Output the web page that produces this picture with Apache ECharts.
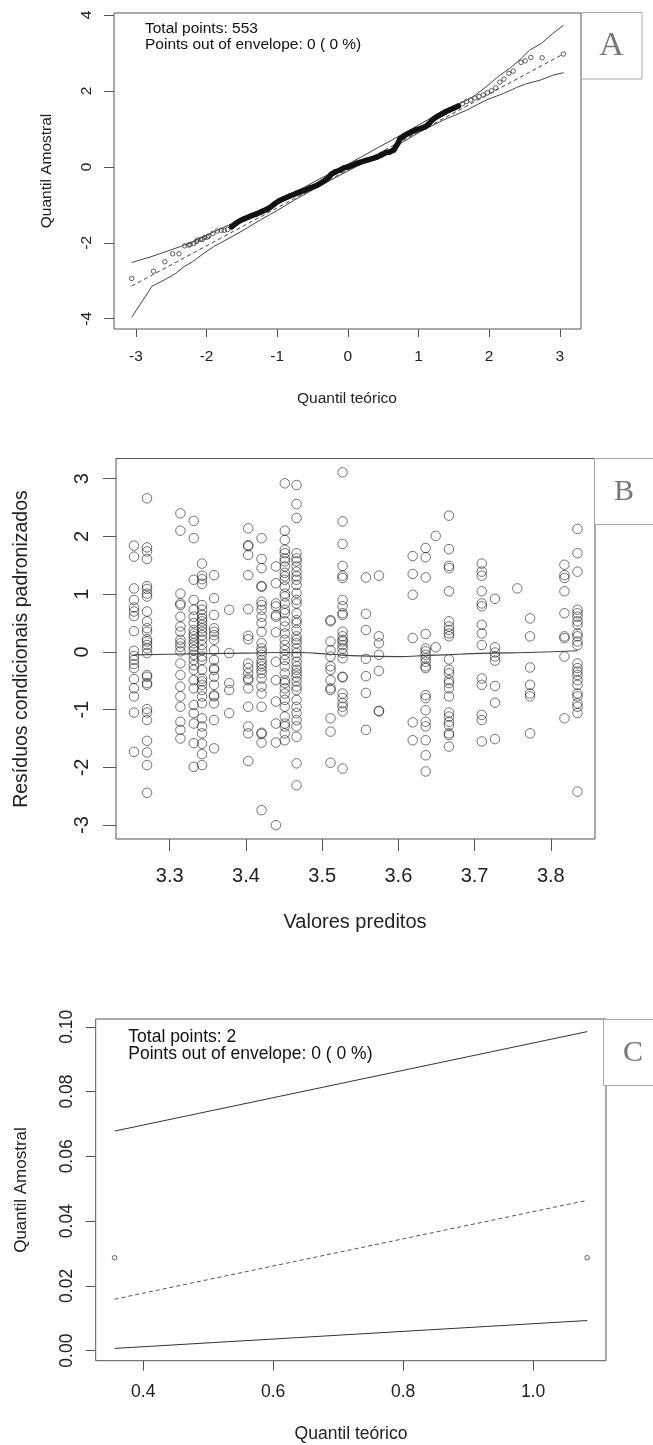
<!DOCTYPE html>
<html><head><meta charset="utf-8">
<script src="https://cdn.jsdelivr.net/npm/echarts@6/dist/echarts.min.js"></script>
<style>html,body{margin:0;padding:0;background:#fff}#c{width:653px;height:1445px}</style>
</head><body><div id="c"></div>
<script>
// ---------- Panel A : normal QQ plot with envelope ----------
// sample points (theoretical quantile, sample quantile)
const aPtX = [-3.06,-2.75,-2.59,-2.48,-2.39,-2.31,-2.25,-2.233,-2.18,-2.145,-2.13,-2.086,-2.06,-2.027,-1.99,-1.969,-1.910,-1.850,-1.792,-1.75,-1.703,-1.645,-1.586,-1.527,-1.468,-1.380,-1.292,-1.233,-1.144,-1.086,-1.027,-0.968,-0.910,-0.821,-0.733,-0.674,-0.585,-0.527,-0.438,-0.350,-0.291,-0.232,-0.174,-0.114,-0.056,0.003,0.062,0.121,0.179,0.239,0.297,0.356,0.415,0.474,0.532,0.592,0.650,0.679,0.709,0.739,0.798,0.856,0.915,0.975,1.032,1.092,1.151,1.209,1.268,1.328,1.386,1.445,1.504,1.562,1.621,1.681,1.739,1.798,1.857,1.915,1.975,2.034,2.092,2.15,2.21,2.28,2.34,2.45,2.51,2.59,2.75,3.05];
const aPtY = [-2.94,-2.75,-2.50,-2.29,-2.29,-2.08,-2.06,-2.04,-2.02,-1.97,-1.93,-1.91,-1.91,-1.86,-1.85,-1.82,-1.75,-1.69,-1.67,-1.67,-1.65,-1.58,-1.49,-1.42,-1.37,-1.30,-1.24,-1.19,-1.12,-1.05,-0.96,-0.89,-0.84,-0.77,-0.70,-0.66,-0.60,-0.55,-0.49,-0.39,-0.31,-0.19,-0.13,-0.09,-0.03,0.00,0.04,0.09,0.12,0.16,0.19,0.22,0.26,0.31,0.37,0.39,0.44,0.53,0.62,0.74,0.82,0.88,0.93,0.98,1.01,1.05,1.14,1.26,1.33,1.39,1.45,1.50,1.55,1.60,1.66,1.72,1.76,1.81,1.85,1.89,1.95,2.00,2.08,2.23,2.31,2.46,2.52,2.75,2.79,2.88,2.87,2.97];
const aDenseFrom = -1.65, aDenseTo = 1.60;   // x-range where the circles overlap into a solid band
const aUpX = [-3.06,-2.79,-2.51,-2.37,-2.18,-2.00,-1.80,-1.60,-1.40,-1.20,-1.00,-0.80,-0.60,-0.40,-0.20,0.00,0.20,0.40,0.60,0.80,1.00,1.20,1.40,1.59,1.77,1.96,2.15,2.29,2.43,2.57,2.74,2.90,3.055];
const aUpY = [-2.52,-2.37,-2.19,-2.10,-1.96,-1.80,-1.63,-1.46,-1.28,-1.10,-0.91,-0.72,-0.52,-0.32,-0.13,0.07,0.27,0.48,0.68,0.89,1.10,1.31,1.51,1.67,1.84,2.11,2.41,2.59,2.81,3.07,3.25,3.51,3.73];
const aLoX = [-3.06,-2.77,-2.60,-2.44,-2.32,-2.20,-2.04,-1.90,-1.71,-1.47,-1.24,-1.00,-0.77,-0.50,-0.25,0.00,0.25,0.50,0.75,1.02,1.35,1.68,1.96,2.20,2.39,2.53,2.72,2.90,3.055];
const aLoY = [-3.96,-3.14,-2.98,-2.81,-2.63,-2.50,-2.28,-2.10,-1.91,-1.66,-1.40,-1.15,-0.89,-0.61,-0.36,-0.11,0.13,0.34,0.62,0.92,1.23,1.49,1.76,1.93,2.09,2.19,2.28,2.41,2.48];
const aMidX = [-3.06, 3.05];
const aMidY = [-3.14, 2.97];
const aTicksX = [-3,-2,-1,0,1,2,3];
const aTicksY = [-4,-2,0,2,4];
const aText = ['Total points: 553', 'Points out of envelope: 0 ( 0 %)'];

// ---------- Panel B : residuals vs fitted ----------
const bColX = [3.2531,3.2702,3.314,3.3315,3.3424,3.3582,3.378,3.403,3.4205,3.4393,3.451,3.4664,3.511,3.5268,3.5574,3.5745,3.6188,3.6358,3.649,3.6664,3.7094,3.7268,3.7561,3.7728,3.8179,3.835];
const bColY = [
 [1.84,1.65,1.10,0.90,0.77,0.70,0.62,0.36,0.02,-0.07,-0.14,-0.21,-0.28,-0.47,-0.63,-0.77,-1.05,-1.73],
 [2.66,1.81,1.74,1.61,1.14,1.09,1.01,0.96,0.70,0.53,0.41,0.35,0.22,0.18,0.12,0.06,-0.02,-0.40,-0.43,-0.54,-0.57,-0.99,-1.05,-1.18,-1.54,-1.74,-1.96,-2.44],
 [2.40,2.10,1.01,0.84,0.81,0.61,0.44,0.35,0.21,0.15,0.09,0.01,-0.20,-0.40,-0.60,-0.77,-0.95,-1.21,-1.35,-1.50],
 [2.27,1.97,1.25,0.90,0.73,0.61,0.50,0.38,0.32,0.27,0.21,0.15,0.09,0.03,-0.05,-0.14,-0.23,-0.31,-0.49,-0.63,-0.92,-1.06,-1.24,-1.58,-1.99],
 [1.53,1.32,1.26,1.18,0.81,0.73,0.64,0.58,0.53,0.47,0.41,0.35,0.29,0.21,0.12,0.03,-0.08,-0.14,-0.31,-0.46,-0.51,-0.57,-0.66,-0.77,-0.89,-1.15,-1.29,-1.41,-1.59,-1.77,-1.96],
 [1.33,0.93,0.64,0.41,0.35,0.29,0.21,0.03,-0.14,-0.28,-0.31,-0.43,-0.57,-0.75,-0.77,-0.89,-1.18,-1.67],
 [0.73,-0.02,-0.54,-0.66,-1.06],
 [2.14,1.85,1.83,1.68,1.33,0.74,0.28,0.22,-0.20,-0.28,-0.37,-0.46,-0.49,-0.63,-0.95,-1.29,-1.41,-1.89],
 [1.97,1.61,1.45,1.14,1.13,0.87,0.81,0.73,0.61,0.50,0.35,0.15,0.06,0.01,-0.05,-0.14,-0.20,-0.25,-0.31,-0.37,-0.46,-0.60,-0.72,-0.95,-1.40,-1.42,-1.57,-2.74],
 [1.48,1.19,0.84,0.79,0.64,0.61,0.34,-0.17,-0.49,-0.86,-1.24,-1.57,-3.00],
 [2.92,2.10,1.94,1.77,1.71,1.62,1.57,1.48,1.37,1.31,1.25,1.13,1.01,0.96,0.84,0.73,0.67,0.53,0.44,0.32,0.21,0.12,0.03,-0.05,-0.14,-0.25,-0.37,-0.49,-0.54,-0.63,-0.72,-0.83,-0.95,-1.12,-1.24,-1.29,-1.41,-1.53],
 [2.89,2.56,2.32,1.71,1.62,1.57,1.48,1.39,1.31,1.25,1.16,1.02,0.90,0.84,0.67,0.55,0.50,0.38,0.27,0.21,0.15,0.06,-0.02,-0.08,-0.17,-0.25,-0.31,-0.37,-0.43,-0.51,-0.60,-0.66,-0.83,-0.95,-1.06,-1.18,-1.29,-1.47,-1.93,-2.31],
 [0.55,0.53,0.18,0.03,-0.08,-0.25,-0.31,-0.49,-0.63,-0.66,-1.15,-1.38,-1.92],
 [3.11,2.26,1.87,1.49,1.32,1.28,0.90,0.79,0.67,0.64,0.35,0.27,0.21,0.18,0.12,0.06,-0.02,-0.11,-0.43,-0.44,-0.72,-0.80,-0.89,-0.95,-1.03,-2.02],
 [1.29,0.66,0.38,-0.12,-0.42,-0.71,-1.35],
 [1.32,0.27,0.15,-0.05,-0.33,-1.02,-1.03],
 [1.66,1.35,0.99,0.24,-1.22,-1.53],
 [1.80,1.64,1.29,0.31,0.06,0.01,-0.05,-0.11,-0.17,-0.25,-0.28,-0.75,-0.80,-1.01,-1.21,-1.29,-1.53,-1.79,-2.07],
 [2.01,0.08],
 [2.36,1.78,1.49,1.45,1.05,0.53,0.44,0.38,0.32,0.27,-0.13,-0.31,-0.37,-0.49,-0.54,-0.63,-0.77,-1.05,-1.12,-1.21,-1.27,-1.41,-1.44,-1.64],
 [1.53,1.39,1.32,1.05,0.84,0.79,0.47,0.32,0.12,-0.46,-0.57,-1.09,-1.18,-1.55],
 [0.92,0.08,-0.01,-0.08,-0.15,-0.59,-0.88,-1.51],
 [1.10],
 [0.58,0.27,-0.27,-0.57,-0.72,-0.77,-1.41],
 [1.51,1.33,1.28,1.05,0.67,0.27,0.24,-0.08,-1.15],
 [2.13,1.71,1.39,0.73,0.67,0.61,0.53,0.47,0.32,0.27,0.18,0.12,-0.20,-0.28,-0.34,-0.40,-0.49,-0.57,-0.72,-0.77,-0.89,-0.95,-1.06,-2.42]
];
const bSmoothX = [3.2531,3.30,3.35,3.40,3.45,3.47,3.51,3.55,3.60,3.64,3.68,3.72,3.77,3.835];
const bSmoothY = [-0.05,-0.04,-0.03,-0.02,-0.01,-0.01,-0.04,-0.07,-0.08,-0.06,-0.04,-0.02,-0.01,0.02];
const bTicksX = [3.3,3.4,3.5,3.6,3.7,3.8];
const bTicksY = [-3,-2,-1,0,1,2,3];

// ---------- Panel C : QQ plot with 2 points ----------
const cPtX = [0.3559, 1.0832];
const cPtY = [0.0287, 0.0287];
const cEnvX = [0.3559, 1.0832];
const cUpY = [0.0678, 0.0985];
const cMidY = [0.0159, 0.0464];
const cLoY = [0.0007, 0.0093];
const cTicksX = [0.4,0.6,0.8,1.0];
const cTicksY = [0,0.02,0.04,0.06,0.08,0.10];
const cText = ['Total points: 2', 'Points out of envelope: 0 ( 0 %)'];

// ---------- build ----------
const zip = (xs, ys) => xs.map((x, i) => [x, ys[i]]);
const FONT = '"Liberation Sans", Arial, Helvetica, sans-serif';
const SERIF = '"Liberation Serif", "Times New Roman", serif';
const BOX = '#555';

function xAxis(gi, min, max, ticks, fs, tl, margin, dec) {
  return {
    type: 'value', gridIndex: gi, min, max,
    axisLine: {show: false, onZero: false},
    splitLine: {show: false},
    axisTick: {show: true, inside: false, length: tl, customValues: ticks, lineStyle: {color: BOX, width: 1}},
    axisLabel: {show: true, customValues: ticks, margin, fontSize: fs, fontFamily: FONT, color: '#222',
      formatter: v => dec == null ? String(v) : Number(v).toFixed(dec)}
  };
}
function yAxis(gi, min, max, ticks, fs, tl, margin, dec) {
  const a = xAxis(gi, min, max, ticks, fs, tl, margin, dec);
  a.axisLabel.rotate = 90;
  return a;
}

const aPoints = zip(aPtX, aPtY);
const aDense = aPoints.filter(p => p[0] >= aDenseFrom && p[0] <= aDenseTo);
const bPoints = [];
bColX.forEach((x, i) => bColY[i].forEach(y => bPoints.push([x, y])));

const grids = [
  {left: 114, top: 13, width: 467, height: 316},
  {left: 116, top: 458.5, width: 479, height: 380.5},
  {left: 95.7, top: 1019, width: 510.3, height: 341.7}
].map(g => Object.assign(g, {show: true, borderColor: BOX, borderWidth: 1, backgroundColor: 'transparent', containLabel: false}));

const openCircle = (c, w) => ({color: 'rgba(0,0,0,0)', borderColor: c, borderWidth: w});

const option = {
  animation: false,
  backgroundColor: '#fff',
  grid: grids,
  xAxis: [
    xAxis(0, -3.31, 3.30, aTicksX, 15.5, 8, 20, null),
    xAxis(1, 3.2295, 3.858, bTicksX, 20, 12, 27, 1),
    xAxis(2, 0.3268, 1.1123, cTicksX, 17.5, 10, 22, 1)
  ],
  yAxis: [
    yAxis(0, -4.27, 4.05, aTicksY, 15.5, 10, 19, null),
    yAxis(1, -3.24, 3.35, bTicksY, 20, 13, 24, null),
    yAxis(2, -0.0031, 0.1024, cTicksY, 17.5, 10, 20, 2)
  ],
  series: [
    {type: 'line', xAxisIndex: 0, yAxisIndex: 0, data: zip(aUpX, aUpY), showSymbol: false, lineStyle: {color: '#444', width: 1}, silent: true},
    {type: 'line', xAxisIndex: 0, yAxisIndex: 0, data: zip(aLoX, aLoY), showSymbol: false, lineStyle: {color: '#444', width: 1}, silent: true},
    {type: 'line', xAxisIndex: 0, yAxisIndex: 0, data: zip(aMidX, aMidY), showSymbol: false, lineStyle: {color: '#444', width: 1, type: [4, 3]}, silent: true},
    {type: 'line', xAxisIndex: 0, yAxisIndex: 0, data: aDense, showSymbol: false, lineStyle: {color: '#111', width: 5.5, cap: 'round', join: 'round'}, silent: true},
    {type: 'scatter', xAxisIndex: 0, yAxisIndex: 0, data: aPoints, symbol: 'circle', symbolSize: 4.5, itemStyle: openCircle('#222', 0.9), silent: true},

    {type: 'scatter', xAxisIndex: 1, yAxisIndex: 1, data: bPoints, symbol: 'circle', symbolSize: 9.5, itemStyle: openCircle('rgba(0,0,0,0.68)', 1), silent: true},
    {type: 'line', xAxisIndex: 1, yAxisIndex: 1, data: zip(bSmoothX, bSmoothY), showSymbol: false, smooth: true, lineStyle: {color: '#444', width: 1.2}, silent: true},

    {type: 'line', xAxisIndex: 2, yAxisIndex: 2, data: zip(cEnvX, cUpY), showSymbol: false, lineStyle: {color: '#333', width: 1}, silent: true},
    {type: 'line', xAxisIndex: 2, yAxisIndex: 2, data: zip(cEnvX, cLoY), showSymbol: false, lineStyle: {color: '#333', width: 1}, silent: true},
    {type: 'line', xAxisIndex: 2, yAxisIndex: 2, data: zip(cEnvX, cMidY), showSymbol: false, lineStyle: {color: '#555', width: 1, type: [4, 3]}, silent: true},
    {type: 'scatter', xAxisIndex: 2, yAxisIndex: 2, data: zip(cPtX, cPtY), symbol: 'circle', symbolSize: 4.5, itemStyle: openCircle('#222', 0.9), silent: true}
  ],
  graphic: [
    {type: 'text', x: 347, y: 398.5, style: {text: 'Quantil teórico', font: '15.5px ' + FONT, fill: '#222', align: 'center', verticalAlign: 'middle'}},
    {type: 'text', x: 46.5, y: 171, rotation: Math.PI / 2, style: {text: 'Quantil Amostral', font: '15.5px ' + FONT, fill: '#222', align: 'center', verticalAlign: 'middle'}},
    {type: 'text', x: 355, y: 922, style: {text: 'Valores preditos', font: '20px ' + FONT, fill: '#222', align: 'center', verticalAlign: 'middle'}},
    {type: 'text', x: 22, y: 649, rotation: Math.PI / 2, style: {text: 'Resíduos condicionais padronizados', font: '19.5px ' + FONT, fill: '#222', align: 'center', verticalAlign: 'middle'}},
    {type: 'text', x: 351, y: 1434, style: {text: 'Quantil teórico', font: '17.5px ' + FONT, fill: '#222', align: 'center', verticalAlign: 'middle'}},
    {type: 'text', x: 21, y: 1190, rotation: Math.PI / 2, style: {text: 'Quantil Amostral', font: '17px ' + FONT, fill: '#222', align: 'center', verticalAlign: 'middle'}},
    {type: 'text', x: 145, y: 28.5, style: {text: aText[0], font: '15.5px ' + FONT, fill: '#111', align: 'left', verticalAlign: 'middle'}},
    {type: 'text', x: 145, y: 45, style: {text: aText[1], font: '15.5px ' + FONT, fill: '#111', align: 'left', verticalAlign: 'middle'}},
    {type: 'text', x: 128.3, y: 1037, style: {text: cText[0], font: '17.5px ' + FONT, fill: '#111', align: 'left', verticalAlign: 'middle'}},
    {type: 'text', x: 128.3, y: 1054, style: {text: cText[1], font: '17.5px ' + FONT, fill: '#111', align: 'left', verticalAlign: 'middle'}},
    {type: 'rect', shape: {x: 581.5, y: 12.5, width: 60.5, height: 66.5}, style: {fill: '#fff', stroke: '#aaa', lineWidth: 1}},
    {type: 'text', x: 611.5, y: 46, style: {text: 'A', font: '34px ' + SERIF, fill: '#777', align: 'center', verticalAlign: 'middle'}},
    {type: 'rect', shape: {x: 594.5, y: 458.5, width: 70, height: 66}, style: {fill: '#fff', stroke: '#aaa', lineWidth: 1}},
    {type: 'text', x: 624, y: 492, style: {text: 'B', font: '30px ' + SERIF, fill: '#777', align: 'center', verticalAlign: 'middle'}},
    {type: 'rect', shape: {x: 603.5, y: 1019.5, width: 60, height: 66}, style: {fill: '#fff', stroke: '#aaa', lineWidth: 1}},
    {type: 'text', x: 633, y: 1053, style: {text: 'C', font: '30px ' + SERIF, fill: '#777', align: 'center', verticalAlign: 'middle'}}
  ]
};

const chart = echarts.init(document.getElementById('c'), null, {renderer: 'canvas'});
chart.setOption(option);
</script>
</body></html>
